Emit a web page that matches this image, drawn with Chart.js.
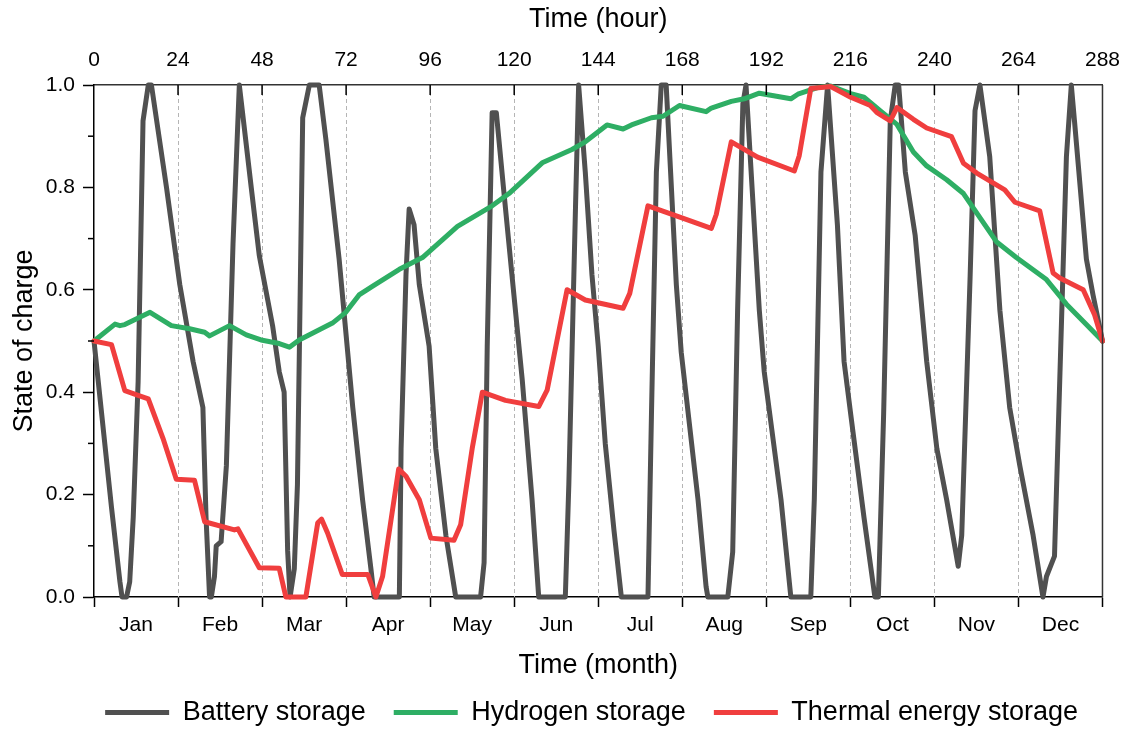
<!DOCTYPE html>
<html>
<head>
<meta charset="utf-8">
<script src="https://cdn.jsdelivr.net/npm/chart.js@4.4.1/dist/chart.umd.min.js"></script>
<style>
  html, body { margin: 0; padding: 0; background: #fff; }
  #wrap { width: 1132px; height: 729px; position: relative; }
</style>
</head>
<body>
<div id="wrap"><canvas id="soc"></canvas></div>
<script>
// data (hour, state of charge)
const months = ['Jan', 'Feb', 'Mar', 'Apr', 'May', 'Jun', 'Jul', 'Aug', 'Sep', 'Oct', 'Nov', 'Dec'];

const batteryHours = [0, 2.2, 5, 7.4, 8, 9.3, 10.2, 11.2, 12.6, 14, 15.5, 16.4, 20.7, 24.5, 28.3, 31.1, 32, 33,
  33.5, 34.4, 34.9, 36.3, 37.8, 39.7, 41.5, 44.9, 47.2, 51, 52.9, 54.3, 55.3, 56, 57.2, 58.1, 59.6, 61.5, 64.3,
  66.2, 70, 73.9, 76.7, 79.1, 80, 87.2, 87.7, 89.1, 90, 91.4, 92.9, 95.7, 97.6, 100.5, 103.3, 110.4, 111.4,
  112.3, 113.7, 114.9, 117, 119.4, 122.3, 125.1, 127, 134.6, 135.6, 137.5, 138.4, 140.3, 142.2, 144, 146,
  148.5, 150.6, 158.2, 159.2, 160.6, 162, 163.4, 166.3, 167.7, 172.5, 174.8, 175.3, 181, 182.4, 183.8, 185.3,
  186.2, 190, 191.4, 196.2, 199, 204.7, 205.7, 207.6, 209.5, 212.3, 214.2, 216.1, 219.9, 223, 224, 225.5,
  227.4, 228.8, 229.8, 231.7, 234.5, 237.8, 240.7, 243.5, 246.8, 247.8, 250.2, 251.6, 253, 255.8, 258.7,
  261.5, 264.4, 268.2, 271, 272, 274.3, 275.8, 277.7, 279.1, 280, 283.4, 285.3, 288];
const batteryValues = [0.5, 0.357, 0.175, 0.03, 0, 0, 0.03, 0.155, 0.42, 0.93, 1, 1, 0.8, 0.61, 0.46, 0.37, 0.155, 0,
  0, 0.04, 0.1, 0.108, 0.256, 0.69, 1, 0.8, 0.667, 0.53, 0.44, 0.4, 0.09, 0, 0.055, 0.22, 0.936, 1, 1,
  0.895, 0.66, 0.37, 0.19, 0.054, 0, 0, 0.29, 0.63, 0.758, 0.727, 0.61, 0.49, 0.29, 0.12, 0, 0, 0.067,
  0.49, 0.946, 0.946, 0.795, 0.626, 0.424, 0.19, 0, 0, 0.22, 0.76, 1, 0.83, 0.63, 0.49, 0.3,
  0.13, 0, 0, 0.357, 0.83, 1, 1, 0.61, 0.478, 0.19, 0.02, 0, 0, 0.088, 0.56, 0.963,
  1, 0.56, 0.44, 0.19, 0, 0, 0.19, 0.83, 1, 0.727, 0.46, 0.357, 0.155, 0, 0, 0.357,
  0.93, 1, 1, 0.83, 0.707, 0.46, 0.29, 0.19, 0.06, 0.12, 0.626, 0.95, 1, 0.86, 0.56,
  0.37, 0.256, 0.12, 0, 0.04, 0.08, 0.424, 0.86, 1, 0.93, 0.66, 0.59, 0.5];

const hydrogenHours = [0, 6, 7.4, 8.8, 16, 22.1, 27.3, 31.6, 33, 38.7, 43.5, 47.7, 52.9, 55.8, 58.6, 68.1, 71.9,
  75.7, 79.6, 87.2, 93.8, 103.8, 113.7, 118.5, 128, 136.5, 140.3, 146.5, 151.1, 153.5, 159.2, 162.5, 167.2,
  174.8, 176.3, 182, 185.7, 190, 199, 201, 206.6, 210.4, 216.1, 219.9, 224.5, 229.3, 234, 237.8, 243.5,
  248.3, 257.7, 263.4, 272, 277.7, 283.4, 288];
const hydrogenValues = [0.5, 0.533, 0.53, 0.532, 0.556, 0.53, 0.524, 0.517, 0.51, 0.53, 0.512, 0.502, 0.495, 0.488,
  0.502, 0.535, 0.556, 0.59, 0.607, 0.64, 0.663, 0.724, 0.764, 0.788, 0.848, 0.874, 0.889, 0.922, 0.914, 0.922,
  0.936, 0.939, 0.96, 0.948, 0.955, 0.968, 0.973, 0.984, 0.973, 0.982, 0.995, 0.998, 0.983, 0.976, 0.95,
  0.923, 0.869, 0.842, 0.815, 0.788, 0.694, 0.663, 0.62, 0.572, 0.532, 0.5];

const thermalHours = [0, 5, 8.8, 12.6, 15.5, 19.7, 23.5, 28.7, 31.6, 40.1, 41.1, 47.2, 52.9, 54.8, 60.5, 63.9, 65,
  66.7, 70.9, 78.2, 80.5, 82.4, 87, 89.1, 92.9, 96.2, 102.8, 104.7, 108, 110.9, 117.5, 127, 129.4, 135.1,
  140.3, 151.1, 153, 158.2, 167.7, 176.3, 177.7, 182, 189.5, 200, 201.4, 204.7, 210.4, 216.1, 221.7, 223.6,
  227.4, 229.3, 234, 237.8, 244.9, 248.3, 252.1, 260.1, 263, 270.1, 273.9, 275.8, 282.5, 285.7, 288];
const thermalValues = [0.5, 0.493, 0.403, 0.394, 0.387, 0.31, 0.23, 0.228, 0.147, 0.131, 0.133, 0.057, 0.056, 0, 0,
  0.145, 0.152, 0.125, 0.044, 0.044, 0, 0.04, 0.25, 0.236, 0.19, 0.115, 0.111, 0.141, 0.29, 0.4, 0.384, 0.372,
  0.404, 0.6, 0.58, 0.564, 0.593, 0.764, 0.741, 0.72, 0.747, 0.889, 0.859, 0.832, 0.862, 0.993, 0.997, 0.976,
  0.96, 0.946, 0.93, 0.956, 0.933, 0.916, 0.899, 0.847, 0.828, 0.795, 0.771, 0.754, 0.633, 0.623, 0.6, 0.552, 0.5];

const toPoints = (hs, vs) => hs.map((h, i) => ({ x: h, y: vs[i] }));

Chart.defaults.font.family = "'Liberation Sans', Arial, sans-serif";
Chart.defaults.color = '#000';

// dashed month separators, inward ticks on top, minor y ticks, right frame
const frameExtras = {
  id: 'frameExtras',
  beforeDatasetsDraw(chart) {
    const { ctx, chartArea: a, scales } = chart;
    ctx.save();
    ctx.strokeStyle = '#b5b5b5';
    ctx.lineWidth = 1;
    ctx.setLineDash([4, 3]);
    scales.x2.ticks.forEach(t => {
      if (t.value <= scales.x2.min || t.value >= scales.x2.max) return;
      const px = Math.round(scales.x.getPixelForValue(t.value)) + 0.5;
      ctx.beginPath(); ctx.moveTo(px, a.top); ctx.lineTo(px, a.bottom); ctx.stroke();
    });
    ctx.restore();
  },
  afterDraw(chart) {
    const { ctx, chartArea: a, scales } = chart;
    ctx.save();
    ctx.strokeStyle = '#000';
    ctx.lineWidth = 1.5;
    scales.x2.ticks.forEach(t => {
      if (t.value <= scales.x2.min || t.value >= scales.x2.max) return;
      const px = scales.x.getPixelForValue(t.value);
      ctx.beginPath(); ctx.moveTo(px, a.top); ctx.lineTo(px, a.top + 10); ctx.stroke();
    });
    scales.y.ticks.forEach(t => {
      if (Math.round(t.value * 10) % 2 === 0) return;
      const py = scales.y.getPixelForValue(t.value);
      ctx.beginPath(); ctx.moveTo(a.left - 6, py); ctx.lineTo(a.left, py); ctx.stroke();
    });
    ctx.strokeStyle = '#333';
    ctx.beginPath(); ctx.moveTo(a.right, a.top); ctx.lineTo(a.right, a.bottom); ctx.stroke();
    ctx.restore();
  }
};

const lineSet = (label, hs, vs, color, order) => ({
  label, data: toPoints(hs, vs), borderColor: color, backgroundColor: color,
  borderWidth: 5, pointRadius: 0, tension: 0, borderJoinStyle: 'round', borderCapStyle: 'round',
  clip: false, order
});

new Chart(document.getElementById('soc'), {
  type: 'line',
  data: {
    datasets: [
      lineSet('Battery storage', batteryHours, batteryValues, '#505050', 3),
      lineSet('Hydrogen storage', hydrogenHours, hydrogenValues, '#2eae64', 2),
      lineSet('Thermal energy storage', thermalHours, thermalValues, '#f03e3e', 1)
    ]
  },
  options: {
    responsive: true,
    maintainAspectRatio: false,
    animation: false,
    layout: { padding: { top: 0, right: 26, bottom: -7, left: 0 } },
    plugins: {
      tooltip: { enabled: false },
      legend: {
        position: 'bottom',
        align: 'end',
        labels: {
          usePointStyle: true, pointStyle: 'line', pointStyleWidth: 64,
          padding: 28, color: '#000', font: { size: 27 },
          sort: (a, b) => a.datasetIndex - b.datasetIndex
        }
      }
    },
    scales: {
      x: {
        type: 'linear', position: 'bottom', min: 0, max: 288,
        afterFit: s => { s.height = 74; },
        ticks: {
          stepSize: 12, autoSkip: false, maxRotation: 0, padding: 6, font: { size: 21 },
          callback: v => (v % 24 === 12 ? months[(v - 12) / 24] : '')
        },
        grid: {
          drawOnChartArea: false, tickLength: 10, tickWidth: 1.5,
          tickColor: c => (c.tick && c.tick.value % 24 === 0 ? '#000' : 'rgba(0,0,0,0)')
        },
        border: { color: '#000', width: 1.5 },
        title: { display: true, text: 'Time (month)', font: { size: 27 }, padding: { top: 0, bottom: -11.2 } }
      },
      x2: {
        type: 'linear', position: 'top', min: 0, max: 288,
        afterFit: s => { s.height = 85; },
        ticks: { stepSize: 24, autoSkip: false, maxRotation: 0, padding: 12, font: { size: 21 } },
        grid: { drawOnChartArea: false, drawTicks: false },
        border: { color: '#333', width: 1.5 },
        title: { display: true, text: 'Time (hour)', font: { size: 27 }, padding: { top: 3.8, bottom: 0 } }
      },
      y: {
        min: 0, max: 1,
        afterFit: s => { s.width = 94; },
        ticks: {
          stepSize: 0.1, autoSkip: false, padding: 8, font: { size: 21 },
          callback: v => { const k = Math.round(v * 10); return k % 2 === 0 ? (k / 10).toFixed(1) : ''; }
        },
        grid: {
          drawOnChartArea: false, tickLength: 11, tickWidth: 1.5,
          tickColor: c => (c.tick && Math.round(c.tick.value * 10) % 2 === 0 ? '#000' : 'rgba(0,0,0,0)')
        },
        border: { color: '#000', width: 1.5 },
        title: { display: true, text: 'State of charge', font: { size: 27 }, padding: { top: 8.4, bottom: 0 } }
      }
    }
  },
  plugins: [frameExtras]
});
</script>
</body>
</html>
